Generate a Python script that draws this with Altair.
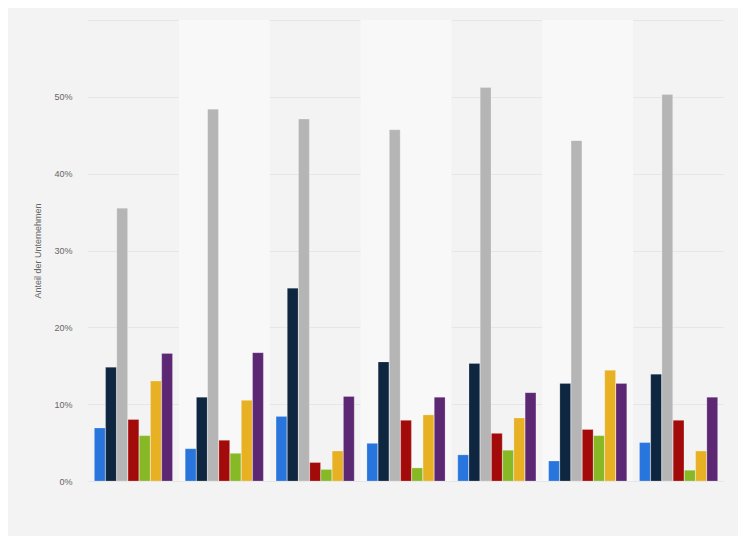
import altair as alt
import pandas as pd

groups = ["Gruppe 1", "Gruppe 2", "Gruppe 3", "Gruppe 4", "Gruppe 5", "Gruppe 6", "Gruppe 7"]
series = ["Serie A", "Serie B", "Serie C", "Serie D", "Serie E", "Serie F", "Serie G"]
colors = ["#2876dd", "#0f2640", "#b5b5b5", "#a30b0b", "#86b925", "#e8b124", "#5c2873"]

serie_a = [6.9, 4.2, 8.4, 4.9, 3.4, 2.6, 5.0]
serie_b = [14.8, 10.9, 25.1, 15.5, 15.3, 12.7, 13.9]
serie_c = [35.5, 48.4, 47.1, 45.7, 51.2, 44.3, 50.3]
serie_d = [8.0, 5.3, 2.4, 7.9, 6.2, 6.7, 7.9]
serie_e = [5.9, 3.6, 1.5, 1.7, 4.0, 5.9, 1.4]
serie_f = [13.0, 10.5, 3.9, 8.6, 8.2, 14.4, 3.9]
serie_g = [16.6, 16.7, 11.0, 10.9, 11.5, 12.7, 10.9]

tick_values = [0, 10, 20, 30, 40, 50, 60]
shaded_groups = ["Gruppe 2", "Gruppe 4", "Gruppe 6"]

all_series = [serie_a, serie_b, serie_c, serie_d, serie_e, serie_f, serie_g]
rows = []
for s_name, vals in zip(series, all_series):
    for g, v in zip(groups, vals):
        rows.append({"Gruppe": g, "Serie": s_name, "Wert": v})
df = pd.DataFrame(rows)
bands_df = pd.DataFrame({"Gruppe": shaded_groups})

W, H = 636, 461
P_IN, P_OUT = 0.14, 0.07

xscale = alt.Scale(domain=groups, paddingInner=P_IN, paddingOuter=P_OUT)

bands = alt.Chart(bands_df).mark_bar(
    color="#f8f8f8", width=alt.RelativeBandSize(1 / (1 - P_IN))
).encode(
    x=alt.X("Gruppe:N", scale=xscale, axis=None),
    y=alt.value(0),
    y2=alt.value(H),
)

bars = alt.Chart(df).mark_bar(stroke="#ffffff", strokeWidth=0.6, strokeOpacity=0.35).encode(
    x=alt.X("Gruppe:N", scale=xscale,
            axis=alt.Axis(title=None, labels=False, ticks=False, domain=True,
                          domainColor="#333333", domainWidth=1.2, grid=False)),
    xOffset=alt.XOffset("Serie:N", sort=series, scale=alt.Scale(paddingInner=0.04)),
    y=alt.Y("Wert:Q", scale=alt.Scale(domain=[0, 60], nice=False),
            axis=alt.Axis(title="Anteil der Unternehmen", values=tick_values,
                          labelExpr="datum.value == 60 ? '' : datum.value + '%'",
                          domain=False, ticks=False, labelPadding=16,
                          labelFont="Liberation Sans", labelFontSize=9, labelColor="#666666",
                          titleFont="Liberation Sans", titleFontSize=9, titleColor="#666666",
                          titleFontWeight="normal", titlePadding=11,
                          grid=True, gridColor="#d8d8d8", gridDash=[1, 1], gridWidth=1)),
    color=alt.Color("Serie:N", scale=alt.Scale(domain=series, range=colors), legend=None),
)

chart = alt.layer(bands, bars).properties(
    width=W, height=H,
    background="#f3f3f3",
    padding={"left": 80, "top": 12, "right": 14, "bottom": 55},
    autosize=alt.AutoSizeParams(type="none"),
).configure_view(stroke=None)

chart.save("out.html", embed_options={"renderer": "svg", "actions": False})
